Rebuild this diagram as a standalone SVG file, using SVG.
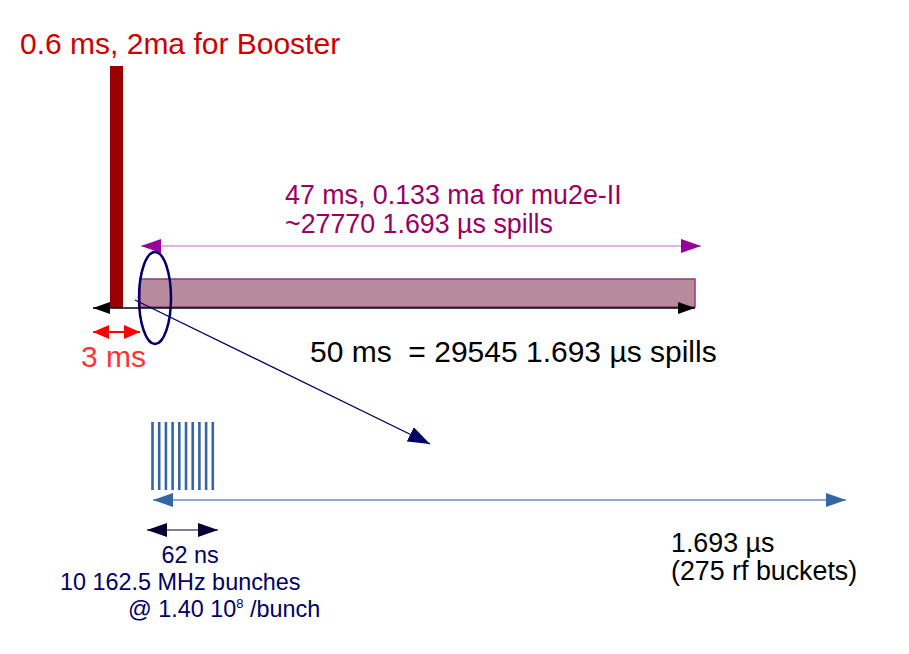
<svg xmlns="http://www.w3.org/2000/svg" width="909" height="654" viewBox="0 0 909 654">
<style>
text{font-family:"Liberation Sans",Arial,sans-serif;white-space:pre}
.big{font-size:26.8px}
.mid{font-size:23.4px;fill:#000066}
</style>
<defs>
<marker id="mkP" viewBox="0 0 20 14" refX="20" refY="7" markerWidth="20" markerHeight="14" markerUnits="userSpaceOnUse" orient="auto-start-reverse"><path d="M0,0 L20,7 L0,14 Z" fill="#990099"/></marker>
<marker id="mkK" viewBox="0 0 17 12" refX="17" refY="6" markerWidth="17" markerHeight="12" markerUnits="userSpaceOnUse" orient="auto-start-reverse"><path d="M0,0 L17,6 L0,12 Z" fill="#000000"/></marker>
<marker id="mkR" viewBox="0 0 16 14" refX="16" refY="7" markerWidth="16" markerHeight="14" markerUnits="userSpaceOnUse" orient="auto-start-reverse"><path d="M0,0 L16,7 L0,14 Z" fill="#ff0000"/></marker>
<marker id="mkB" viewBox="0 0 20 14" refX="20" refY="7" markerWidth="20" markerHeight="14" markerUnits="userSpaceOnUse" orient="auto-start-reverse"><path d="M0,0 L20,7 L0,14 Z" fill="#3465a4"/></marker>
<marker id="mkN" viewBox="0 0 20 14" refX="20" refY="7" markerWidth="20" markerHeight="14" markerUnits="userSpaceOnUse" orient="auto-start-reverse"><path d="M0,0 L20,7 L0,14 Z" fill="#000033"/></marker>
<marker id="mkD" viewBox="0 0 22 16" refX="22" refY="8" markerWidth="22" markerHeight="16" markerUnits="userSpaceOnUse" orient="auto"><path d="M0,0 L22,8 L0,16 Z" fill="#000066"/></marker>
</defs>

<g id="booster">
<rect x="110" y="66" width="13" height="242" fill="#990000"/>
<text x="20" y="54" style="font-size:30px" fill="#cc0000">0.6 ms, 2ma for Booster</text>
</g>

<g id="mu2e">
<rect x="140" y="279" width="555" height="28" fill="#b88a9e" stroke="#993380" stroke-width="1.5"/>
<text x="285" y="204" class="big" fill="#990066">47 ms, 0.133 ma for mu2e-II</text>
<text x="285" y="233" class="big" fill="#990066">~27770 1.693 µs spills</text>
</g>

<g id="zoom-ellipse">
<ellipse cx="155" cy="298" rx="16" ry="46" fill="none" stroke="#000066" stroke-width="2.5"/>
</g>

<g id="labels">
<text x="81" y="367" style="font-size:30px" fill="#ff3333">3 ms</text>
<text x="310" y="362" style="font-size:30px" fill="#000000" xml:space="preserve">50 ms  = 29545 1.693 µs spills</text>
<text x="671" y="552" class="big" fill="#000000">1.693 µs</text>
<text x="671" y="580" class="big" fill="#000000">(275 rf buckets)</text>
<text x="190" y="563" class="mid" text-anchor="middle">62 ns</text>
<text x="60" y="590" class="mid">10 162.5 MHz bunches</text>
<text x="128" y="617" class="mid">@ 1.40 10<tspan dy="-9" font-size="13">8</tspan><tspan dy="9"> /bunch</tspan></text>
</g>

<g id="bunches" stroke="#3465a4" stroke-width="2.6">
<line x1="152.5" y1="422" x2="152.5" y2="490"/>
<line x1="159.2" y1="422" x2="159.2" y2="490"/>
<line x1="165.9" y1="422" x2="165.9" y2="490"/>
<line x1="172.6" y1="422" x2="172.6" y2="490"/>
<line x1="179.3" y1="422" x2="179.3" y2="490"/>
<line x1="186" y1="422" x2="186" y2="490"/>
<line x1="192.7" y1="422" x2="192.7" y2="490"/>
<line x1="199.4" y1="422" x2="199.4" y2="490"/>
<line x1="206.1" y1="422" x2="206.1" y2="490"/>
<line x1="212.8" y1="422" x2="212.8" y2="490"/>
</g>

<g id="connectors" fill="none">
<line x1="93" y1="308" x2="695" y2="308" stroke="#000000" stroke-width="1.5" marker-start="url(#mkK)" marker-end="url(#mkK)"/>
<line x1="141" y1="246" x2="701" y2="246" stroke="#cc66cc" stroke-width="1.2" marker-start="url(#mkP)" marker-end="url(#mkP)"/>
<line x1="93" y1="332" x2="140" y2="332" stroke="#ff0000" stroke-width="2" marker-start="url(#mkR)" marker-end="url(#mkR)"/>
<line x1="135" y1="300" x2="430" y2="444" stroke="#000066" stroke-width="1.3" marker-end="url(#mkD)"/>
<line x1="153" y1="500" x2="846" y2="500" stroke="#6c8ebf" stroke-width="1.5" marker-start="url(#mkB)" marker-end="url(#mkB)"/>
<line x1="147" y1="530" x2="218" y2="530" stroke="#555577" stroke-width="1.5" marker-start="url(#mkN)" marker-end="url(#mkN)"/>
</g>
</svg>
